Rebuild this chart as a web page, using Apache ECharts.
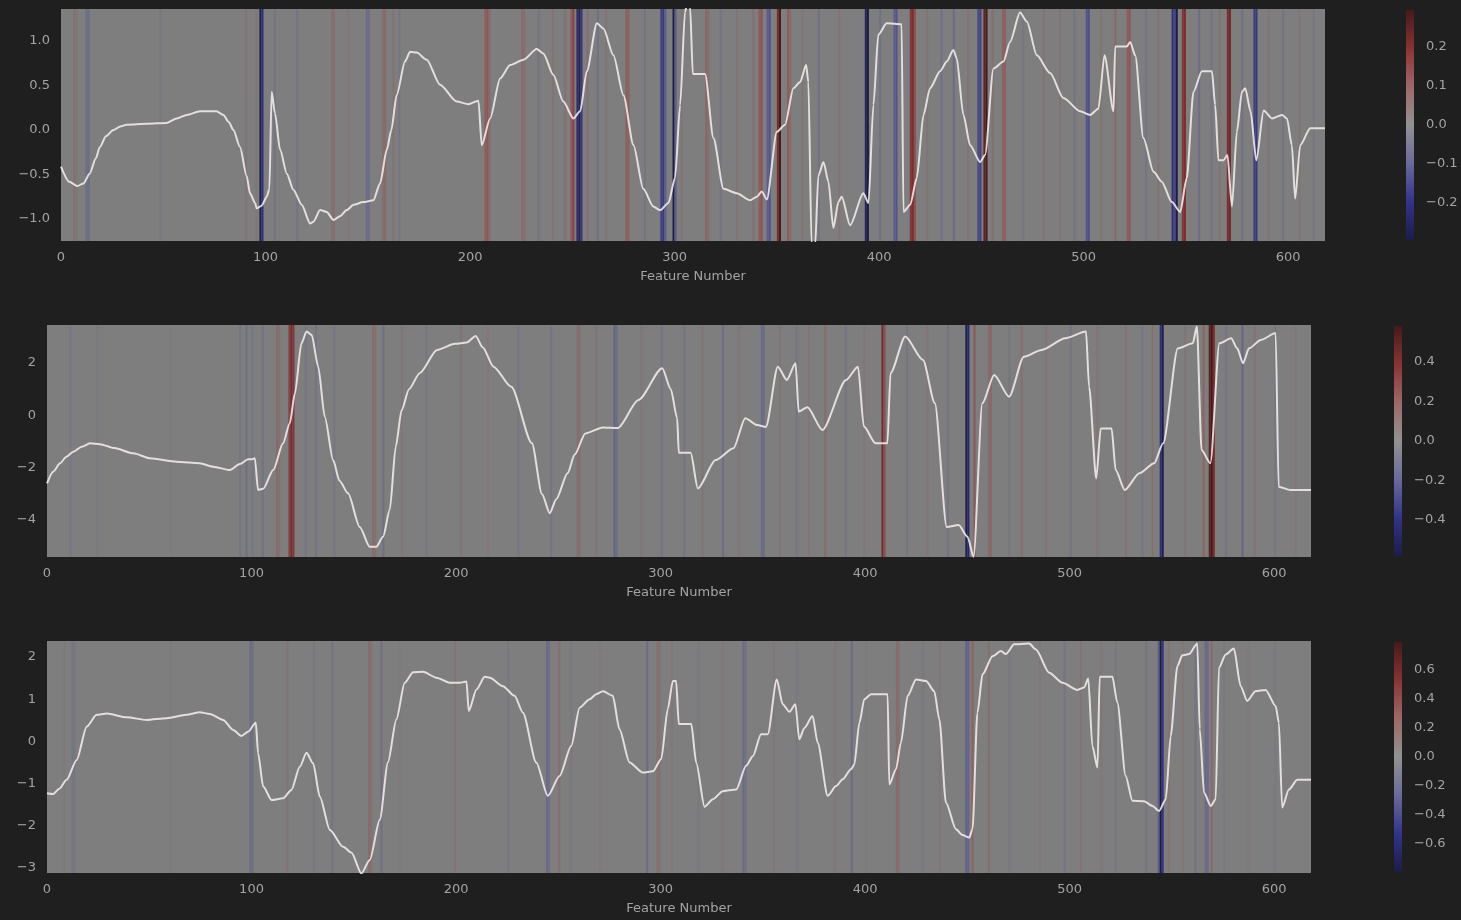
<!DOCTYPE html>
<html>
<head>
<meta charset="utf-8">
<script src="https://cdn.jsdelivr.net/npm/echarts@6/dist/echarts.min.js"></script>
<style>
  html, body { margin: 0; padding: 0; background: #1f1f1f; }
  #chart { width: 1461px; height: 920px; }
</style>
</head>
<body>
<div id="chart"></div>
<script>
// Feature axis shared by the three rows
const featureCount = 618;
const featureTicks = [0, 100, 200, 300, 400, 500, 600];

// Row 1: signal (feature, value) and per-feature attribution (feature, score)
const signal1 = [
  [0,-0.41],[4,-0.58],[8,-0.63],[11,-0.6],[14,-0.49],[17,-0.32],[19,-0.19],[22,-0.07],[25.6,0.0],[29,0.04],[32,0.06],
  [42,0.07],[51.7,0.08],[56.6,0.13],[61.5,0.17],[68,0.21],[76,0.21],[79.4,0.17],[82,0.09],[84.3,0.0],[87.5,-0.19],
  [90.8,-0.52],[92.4,-0.71],[94.9,-0.82],[95.7,-0.88],[98.1,-0.85],[100.6,-0.75],[101.9,-0.66],[103,0.43],[104.6,0.19],
  [107.1,-0.22],[110.4,-0.49],[113.6,-0.67],[117.7,-0.84],[121.8,-1.05],[123.4,-1.03],[126.7,-0.9],[129.9,-0.92],
  [133.2,-1.01],[136.4,-0.97],[139.7,-0.9],[143,-0.84],[147.8,-0.81],[152.7,-0.79],[156,-0.6],[159.3,-0.22],[161.5,0.0],
  [164.1,0.39],[168.2,0.77],[170.7,0.88],[173.9,0.87],[178.8,0.79],[185.3,0.51],[193.5,0.32],[199.2,0.29],[204.1,0.33],
  [205.7,-0.17],[209.8,0.13],[214.7,0.58],[219.6,0.73],[226.1,0.79],[232.6,0.91],[235.8,0.86],[240.7,0.62],[245.6,0.32],
  [250.5,0.13],[253.8,0.21],[257.1,0.66],[262,1.2],[265.2,1.14],[270.1,0.84],[275,0.39],[279.9,-0.17],[284.7,-0.66],
  [289.6,-0.86],[292.9,-0.9],[297,-0.82],[300.2,-0.54],[302.7,0.28],[305.1,1.33],[306,1.4],[307.6,1.38],[308.9,0.63],
  [314.9,0.63],[319,-0.09],[323.9,-0.66],[330.4,-0.71],[336.9,-0.79],[340.2,-0.75],[342.6,-0.69],[345.1,-0.78],[350,-0.02],
  [354,0.06],[358.1,0.47],[361.4,0.54],[364.3,0.73],[365.4,0.54],[367,-1.3],[368.7,-1.3],[370.3,-0.51],[372.8,-0.36],
  [375.2,-0.58],[377.6,-1.1],[380.1,-0.81],[381.7,-0.75],[385.8,-1.07],[392.3,-0.71],[394.8,-0.82],[397.2,0.28],[399.6,1.07],
  [403.7,1.2],[411,1.19],[411.9,-0.92],[415.2,-0.84],[418.4,-0.54],[421.7,0.17],[424.9,0.47],[429.8,0.66],[433.1,0.77],
  [436.3,0.9],[437.9,0.81],[441.2,0.17],[444.5,-0.17],[449.4,-0.36],[451.8,-0.28],[455.9,0.69],[460.8,0.77],[464,0.99],
  [468.9,1.32],[472.2,1.22],[477.1,0.84],[483.6,0.64],[490.1,0.36],[498.3,0.21],[503.2,0.17],[507.2,0.24],[510.2,0.84],
  [514.6,0.21],[515.4,0.94],[521.1,0.94],[522.7,0.99],[525.2,0.84],[529.2,-0.09],[534.2,-0.47],[538.2,-0.58],[543.1,-0.81],
  [547.2,-0.92],[550.4,-0.54],[553.7,0.43],[557.8,0.66],[562.7,0.66],[564.3,0.28],[565.9,-0.34],[568.4,-0.34],[570.3,-0.28],
  [572.5,-0.86],[574.9,-0.02],[577.4,0.43],[579,0.47],[581.6,0.21],[584.4,-0.34],[588,0.22],[592.1,0.13],[597,0.17],
  [599.4,0.13],[601.8,-0.17],[603.4,-0.77],[605.9,-0.17],[610.8,0.02],[618,0.02]
];
const attr1 = [
  [6,0.04],[7,0.03],[12,-0.05],[13,-0.05],[48,-0.02],[90,0.03],[95,0.02],[97,-0.27],[98,-0.2],[104,-0.03],[115,-0.03],
  [132,0.04],[133,0.05],[140,0.02],[149,-0.06],[150,-0.05],[157,0.05],[158,0.06],[162,0.03],[165,-0.03],[207,0.1],
  [208,0.11],[209,0.06],[225,0.06],[226,0.05],[233,-0.03],[240,0.03],[246,0.04],[249,0.1],[250,0.15],[252,-0.22],
  [253,-0.27],[254,-0.18],[257,0.04],[262,-0.04],[266,0.03],[276,0.1],[277,0.08],[285,-0.03],[293,-0.16],[294,-0.18],
  [295,-0.1],[299,-0.29],[300,-0.1],[303,0.03],[315,0.07],[316,0.05],[322,-0.03],[330,0.03],[338,0.04],[341,0.1],
  [342,0.12],[345,-0.1],[346,-0.12],[350,0.2],[351,0.29],[355,0.1],[356,0.06],[362,0.03],[370,-0.04],[380,0.03],
  [393,-0.25],[394,-0.29],[400,-0.04],[407,-0.1],[408,-0.12],[415,0.18],[416,0.2],[417,0.12],[423,0.03],[430,-0.04],
  [436,-0.06],[443,0.03],[448,-0.14],[449,-0.16],[451,0.25],[452,0.29],[455,0.04],[460,0.08],[461,0.09],[470,-0.02],
  [480,0.03],[488,0.03],[495,-0.03],[501,-0.12],[502,-0.13],[508,0.03],[515,0.06],[521,0.1],[522,0.11],[530,-0.03],
  [536,0.03],[543,-0.2],[544,-0.15],[545,-0.29],[548,0.18],[549,0.2],[556,-0.05],[562,-0.03],[566,0.03],[570,0.2],
  [571,0.22],[577,-0.04],[583,-0.17],[584,-0.18],[590,0.03],[597,-0.03],[605,0.03],[612,-0.02]
];

// Row 2
const signal2 = [
  [0,-2.6],[3,-2.15],[6.4,-1.83],[9.5,-1.58],[12.8,-1.39],[17,-1.2],[21,-1.07],[25.9,-1.1],[33,-1.25],[42.2,-1.45],
  [50.3,-1.64],[63.4,-1.77],[74.7,-1.83],[81.2,-1.96],[89.4,-2.09],[94.3,-1.86],[98.3,-1.68],[100,-1.68],[101.6,-1.64],
  [103.2,-2.85],[105.7,-2.8],[110.6,-2.09],[115.4,-1.07],[118.7,-0.3],[121.2,0.84],[124.4,2.75],[126.9,3.2],[129.4,3.07],
  [132.6,1.86],[135.8,-0.05],[139.9,-1.71],[143,-2.5],[147.2,-2.98],[152.9,-4.26],[157.8,-5.02],[161,-5.02],[164.3,-4.64],
  [167.6,-3.6],[170.5,-1.2],[173.4,0.2],[177,1.0],[182.2,1.61],[190.7,2.5],[199.4,2.73],[205.2,2.78],[209.6,3.03],
  [213,2.6],[218.3,1.86],[227,1.09],[237.1,-1.07],[242,-3.0],[245.8,-3.74],[249,-3.2],[254.5,-2.21],[258,-1.5],
  [263.2,-0.69],[271.8,-0.46],[279.1,-0.48],[289.2,0.59],[300.8,1.8],[305,1.0],[308.1,-0.11],[308.9,-1.43],[314.7,-1.43],
  [318.2,-2.79],[326.9,-1.71],[335.6,-1.26],[341.4,-0.11],[347.2,-0.37],[351.5,-0.44],[357.3,1.86],[361.7,1.35],[366,1.99],
  [367.5,0.14],[371.8,0.31],[379.1,-0.56],[390.7,1.35],[396.5,1.86],[399.4,-0.43],[405.1,-1.07],[410.9,-1.07],[412.4,1.61],
  [419.6,3.01],[428.3,2.11],[434.1,0.46],[439.9,-4.26],[445.7,-4.19],[450.1,-4.64],[453,-5.4],[457.3,0.46],[463.1,1.54],
  [470.4,0.71],[477.6,2.24],[486.3,2.5],[497.9,2.94],[508,3.2],[509.5,1.09],[513,-2.41],[515.2,-0.5],[520.5,-0.5],
  [522.5,-2.09],[526.9,-2.85],[534.1,-2.21],[541.3,-1.83],[545.7,-1.07],[552.9,2.56],[560.2,2.75],[562.2,3.39],
  [564.5,-1.32],[568.8,-1.83],[573.2,2.75],[579,2.94],[581.9,2.56],[584.8,1.99],[587.7,2.56],[593.5,2.88],[600.7,3.14],
  [602.2,-2.73],[607.9,-2.85],[618,-2.85]
];
const attr2 = [
  [11,-0.04],[24,-0.03],[60,0.02],[94,-0.06],[97,-0.08],[100,-0.05],[105,-0.06],[112,0.12],[113,0.08],[118,0.3],
  [119,0.42],[120,0.35],[126,-0.05],[131,-0.06],[140,-0.04],[159,0.12],[160,0.08],[164,-0.08],[173,0.05],[185,-0.04],
  [202,0.07],[215,0.04],[230,-0.04],[246,-0.06],[259,0.1],[260,0.08],[268,0.05],[277,-0.15],[278,-0.1],[290,0.05],
  [300,-0.06],[311,-0.06],[320,0.06],[330,-0.1],[338,0.05],[349,-0.12],[350,-0.1],[358,0.05],[366,-0.05],[372,0.05],
  [380,0.1],[390,-0.05],[399,0.05],[408,0.42],[409,0.25],[420,-0.05],[430,0.05],[440,-0.06],[449,-0.55],[450,-0.45],
  [453,0.22],[460,0.1],[461,0.12],[470,-0.04],[476,0.08],[488,0.05],[500,-0.06],[513,0.05],[527,0.06],[535,-0.04],
  [540,0.08],[544,-0.4],[545,-0.56],[556,0.05],[565,0.15],[568,0.5],[569,0.58],[570,0.4],[576,-0.05],[584,-0.14],
  [590,0.05],[600,-0.05],[610,0.04]
];

// Row 3
const signal3 = [
  [0,-1.23],[3,-1.25],[6,-1.12],[9.6,-0.91],[14.5,-0.44],[19.4,0.35],[24.3,0.63],[29.2,0.66],[38.9,0.57],[48.7,0.51],
  [58.5,0.55],[68.2,0.63],[74.7,0.69],[79.6,0.65],[86.1,0.51],[91,0.27],[95.1,0.13],[98.3,0.23],[102.1,0.44],[103.2,-0.28],
  [105.7,-1.07],[109.8,-1.39],[115.4,-1.35],[119.5,-1.15],[123.6,-0.6],[126.9,-0.27],[130.1,-0.52],[133.4,-1.31],
  [138.3,-2.1],[144.8,-2.5],[148.9,-2.64],[153.7,-3.13],[157.8,-2.81],[162.7,-1.86],[166.7,-0.5],[170.8,0.52],[174.9,1.39],
  [179,1.64],[183.9,1.65],[190.4,1.51],[196.9,1.39],[201.8,1.39],[205.1,1.42],[206.2,0.72],[210,1.23],[214,1.53],
  [216.5,1.51],[222.9,1.31],[228.6,1.08],[232.7,0.68],[239.2,-0.5],[244.9,-1.29],[250.6,-0.82],[256.3,-0.11],[260.4,0.8],
  [265.3,1.0],[268.5,1.12],[271.8,1.19],[276.6,1.08],[279.9,0.29],[284.8,-0.5],[291.3,-0.74],[296.2,-0.71],[300.3,-0.42],
  [303.5,0.76],[306,1.43],[307.6,1.43],[308.9,0.41],[315,0.41],[317.4,-0.5],[321.5,-1.55],[325.6,-1.37],[330.4,-1.18],
  [337,-1.14],[341.8,-0.58],[345.1,-0.35],[349.1,0.17],[352.4,0.17],[356.8,1.47],[359.7,0.88],[363,0.7],[365.9,0.88],
  [367.8,0.05],[370.3,0.32],[374.3,0.6],[376.8,-0.03],[381.7,-1.29],[385.8,-1.06],[389,-0.9],[393.1,-0.66],[394.7,-0.55],
  [397.2,0.44],[399.6,1.0],[402.9,1.12],[411,1.12],[411.8,-1.02],[415.1,-0.66],[417.5,-0.03],[420.8,1.08],[424.9,1.47],
  [429.8,1.43],[433.8,1.19],[436.3,0.52],[439.5,-1.45],[444.4,-2.08],[447.6,-2.22],[450.9,-2.28],[452.5,-2.08],[454.9,0.68],
  [457.4,1.59],[462.3,2.02],[466.4,2.14],[468.8,2.07],[472.9,2.3],[480.2,2.32],[483.5,2.18],[490,1.63],[496.5,1.39],
  [503.8,1.22],[507.1,1.28],[509.1,1.49],[511.1,-0.11],[513.6,-0.62],[514.7,1.53],[520.9,1.53],[523.3,0.92],[527.4,-0.82],
  [530.7,-1.41],[536.4,-1.42],[540.5,-1.53],[543.7,-1.65],[547,-1.37],[549.4,0.13],[552.7,1.79],[555.1,2.04],[558.4,2.07],
  [562.4,2.32],[563.6,0.29],[565.7,-1.22],[569,-1.53],[571.4,-1.37],[573,1.75],[576.3,2.06],[580.3,2.2],[583.6,1.31],
  [586.8,0.96],[590.9,1.19],[595.8,1.22],[600.7,0.84],[602.3,0.44],[603.9,-1.57],[607.2,-1.14],[611.3,-0.91],[618,-0.91]
];
const attr3 = [
  [8,0.04],[12,-0.08],[13,-0.06],[60,-0.03],[99,-0.15],[100,-0.12],[117,0.08],[130,-0.05],[139,-0.08],[157,0.14],
  [158,0.1],[163,-0.12],[172,0.04],[199,0.08],[225,-0.05],[244,-0.15],[245,-0.12],[250,0.12],[256,-0.05],[270,0.05],
  [293,-0.15],[298,0.12],[299,0.1],[305,0.06],[318,-0.05],[330,0.06],[340,-0.15],[341,-0.12],[355,0.05],[366,-0.05],
  [385,0.06],[393,-0.15],[400,0.05],[415,0.15],[416,0.12],[428,-0.05],[436,0.06],[449,-0.25],[450,-0.2],[452,0.22],
  [460,0.12],[470,-0.05],[485,0.06],[497,-0.08],[505,0.08],[515,0.06],[522,-0.05],[537,-0.08],[543,-0.25],[544,-0.79],
  [545,-0.5],[548,0.08],[555,0.06],[561,-0.1],[566,-0.18],[567,-0.15],[569,0.15],[575,-0.05],[587,0.05],[600,-0.04]
];

// Value axes
const yRange1 = [-1.247, 1.36];
const yRange2 = [-5.41, 3.45];
const yRange3 = [-3.12, 2.38];
const yTicks1 = [-1, -0.5, 0, 0.5, 1];
const yTicks2 = [-4, -2, 0, 2];
const yTicks3 = [-3, -2, -1, 0, 1, 2];

// Colour bar limits and ticks
const cbLimits = [0.295, 0.582, 0.793];
const cbTicks1 = [-0.2, -0.1, 0, 0.1, 0.2];
const cbTicks2 = [-0.4, -0.2, 0, 0.2, 0.4];
const cbTicks3 = [-0.6, -0.4, -0.2, 0, 0.2, 0.4, 0.6];

// Diverging colour map, low -> high (cells), and the lighter version shown on the colour bars
const cmapStops = ['#1b1b42', '#30307c', '#5d5d90', '#7e7e7e', '#905c5c', '#7f2e2e', '#421919'];
const barStops = ['#1c1c48', '#33338a', '#6a6a9c', '#929292', '#9e6868', '#8a3333', '#461a1a'];
function cmap(v, lim) {
  const t = Math.max(0, Math.min(1, (v + lim) / (2 * lim)));
  return echarts.color.lerp(t, cmapStops);
}

const textColor = '#a3a3a3';
const fontFamily = 'DejaVu Sans';
const minus = s => String(s).replace('-', '\u2212');

const rows = [
  { signal: signal1, attr: attr1, yRange: yRange1, yTicks: yTicks1, cbTicks: cbTicks1, lim: cbLimits[0], fmt: v => minus(v.toFixed(1)),
    grid: { left: 61, top: 9, width: 1264, height: 232 }, cb: { left: 1406, top: 10, width: 8, height: 230 } },
  { signal: signal2, attr: attr2, yRange: yRange2, yTicks: yTicks2, cbTicks: cbTicks2, lim: cbLimits[1], fmt: v => minus(v.toFixed(0)),
    grid: { left: 47, top: 325, width: 1264, height: 232 }, cb: { left: 1394, top: 326, width: 8, height: 230 } },
  { signal: signal3, attr: attr3, yRange: yRange3, yTicks: yTicks3, cbTicks: cbTicks3, lim: cbLimits[2], fmt: v => minus(v.toFixed(0)),
    grid: { left: 47, top: 641, width: 1264, height: 232 }, cb: { left: 1394, top: 642, width: 8, height: 230 } }
];

const grid = [], xAxis = [], yAxis = [], series = [];

rows.forEach((r, i) => {
  const gMain = grid.length;
  grid.push(Object.assign({ show: true, backgroundColor: cmap(0, 1), borderWidth: 0 }, r.grid));
  xAxis.push({
    type: 'value', gridIndex: gMain, min: 0, max: featureCount,
    axisLine: { show: false }, axisTick: { show: false }, splitLine: { show: false },
    axisLabel: { customValues: featureTicks, color: textColor, fontSize: 13, fontFamily, margin: 10 },
    name: 'Feature Number', nameLocation: 'middle', nameGap: 29,
    nameTextStyle: { color: textColor, fontSize: 13, fontFamily }
  });
  yAxis.push({
    type: 'value', gridIndex: gMain, min: r.yRange[0], max: r.yRange[1],
    axisLine: { show: false }, axisTick: { show: false }, splitLine: { show: false },
    axisLabel: { customValues: r.yTicks, formatter: r.fmt, color: textColor, fontSize: 13, fontFamily, margin: 11 }
  });

  // attribution stripes: one cell per feature, full plot height
  series.push({
    type: 'custom', xAxisIndex: gMain, yAxisIndex: gMain, data: r.attr, z: 1, silent: true,
    clip: true,
    renderItem: (params, api) => {
      const f = api.value(0), v = api.value(1);
      const p0 = api.coord([f, r.yRange[1]]);
      const p1 = api.coord([f + 1, r.yRange[0]]);
      return { type: 'rect', shape: { x: p0[0], y: p0[1], width: p1[0] - p0[0], height: p1[1] - p0[1] },
               style: { fill: cmap(v, r.lim) } };
    }
  });
  // signal trace
  series.push({
    type: 'line', xAxisIndex: gMain, yAxisIndex: gMain, data: r.signal, z: 3,
    showSymbol: false, smooth: 0.25, smoothMonotone: 'x', clip: true,
    lineStyle: { color: '#f2ecec', width: 2, opacity: 0.88 }
  });

  // colour bar
  const gCb = grid.length;
  grid.push(Object.assign({ show: false }, r.cb));
  xAxis.push({ type: 'value', gridIndex: gCb, min: 0, max: 1, show: false });
  yAxis.push({
    type: 'value', gridIndex: gCb, min: -r.lim, max: r.lim, position: 'right', offset: 3,
    axisLine: { show: false }, splitLine: { show: false },
    axisTick: { show: true, length: 5, customValues: r.cbTicks, lineStyle: { color: textColor, width: 1 } },
    axisLabel: { customValues: r.cbTicks, formatter: v => minus(v.toFixed(1)), color: textColor, fontSize: 13, fontFamily, margin: 9 }
  });
  series.push({
    type: 'custom', xAxisIndex: gCb, yAxisIndex: gCb, data: [[0]], silent: true,
    renderItem: (params, api) => {
      const top = api.coord([0, r.lim]);
      const bot = api.coord([1, -r.lim]);
      const n = barStops.length;
      const stops = barStops.map((c, k) => ({ offset: k / (n - 1), color: barStops[n - 1 - k] }));
      return { type: 'rect', shape: { x: top[0], y: top[1], width: bot[0] - top[0], height: bot[1] - top[1] },
               style: { fill: new echarts.graphic.LinearGradient(0, 0, 0, 1, stops) } };
    }
  });
});

const chart = echarts.init(document.getElementById('chart'), null, { renderer: 'canvas' });
chart.setOption({
  backgroundColor: '#1f1f1f',
  animation: false,
  grid, xAxis, yAxis, series
});
</script>
</body>
</html>
